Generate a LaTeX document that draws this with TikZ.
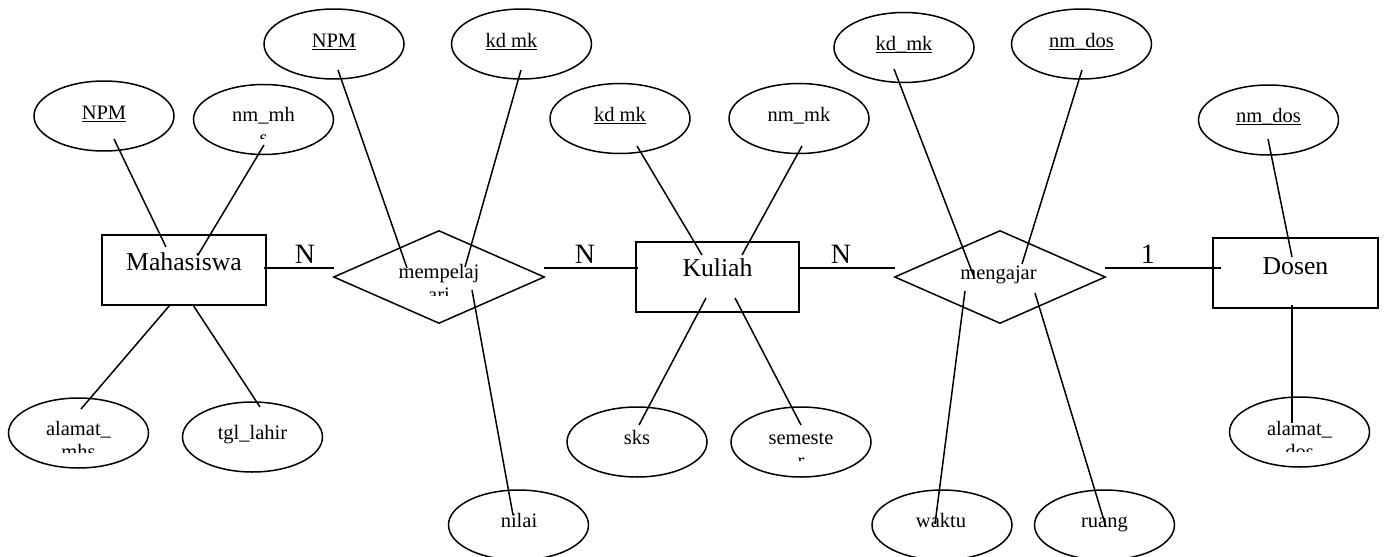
\documentclass[tikz,border=0pt]{standalone}
\usepackage{fontspec}
\setmainfont{Liberation Serif}
\usetikzlibrary{shapes.geometric}
\newsavebox{\ulbx}
\newcommand{\ulin}[1]{\sbox{\ulbx}{#1}\rlap{\rule[-2.7pt]{\wd\ulbx}{1pt}}\usebox{\ulbx}}
\begin{document}
\begin{tikzpicture}[x=1pt,y=-1pt,
  attr/.style={ellipse, draw, line width=1.5pt, minimum width=140pt, minimum height=70pt, inner sep=0pt},
  entity/.style={rectangle, draw, line width=1.5pt, minimum width=164pt, minimum height=70pt, inner sep=0pt},
  rel/.style={diamond, draw, line width=1.5pt, minimum width=211pt, minimum height=93pt, inner sep=0pt},
  atxt/.style={font=\fontsize{20.5}{24}\selectfont, anchor=base, inner sep=0pt},
  etxt/.style={font=\fontsize{25.7}{30}\selectfont, anchor=base, inner sep=0pt},
  card/.style={font=\fontsize{28}{32}\selectfont, anchor=base, inner sep=0pt, yshift=5pt},
  conn/.style={line width=1.5pt}]
\useasboundingbox (0,0) rectangle (1385,557);
\clip (0,0) rectangle (1385,557);

% entities
\node[entity] (mhs) at (184,270) {};
\node[etxt] (mhst) at (184,270) {Mahasiswa};
\node[entity, minimum width=163pt] (kul) at (717.5,277) {};
\node[etxt] (kult) at (717.5,276) {Kuliah};
\node[entity, minimum width=165pt] (dsn) at (1295.5,273) {};
\node[etxt] (dsnt) at (1295.5,274) {Dosen};

% relationships
\node[rel] (mpl) at (439,277) {};
\node[atxt] (mplt) at (439,278) {mempelaj};
\node[rel] (mgj) at (1000,277) {};
\node[atxt] (mgjt) at (998.5,279) {mengajar};

% attributes
\node[attr] (npm1) at (104,116) {};
\node[atxt] (npm1t) at (104,119) {\ulin{NPM}};
\node[attr] (nmmh) at (263.5,119.5) {};
\node[atxt] (nmmht) at (263.5,121) {nm\_mh};
\node[attr] (alamatmhs) at (78.5,433) {};
\node[atxt] (alamatmhst) at (78.5,435) {alamat\_};
\node[attr] (tgl) at (252.5,437) {};
\node[atxt] (tglt) at (252.5,439) {tgl\_lahir};
\node[attr] (npm2) at (334,44) {};
\node[atxt] (npm2t) at (334,47) {\ulin{NPM}};
\node[attr] (kdmk1) at (521.5,44) {};
\node[atxt] (kdmk1t) at (511.5,47) {\ulin{kd mk}};
\node[attr] (nilai) at (518.5,525) {};
\node[atxt] (nilait) at (519,527) {nilai};
\node[attr] (kdmk2) at (620,118.5) {};
\node[atxt] (kdmk2t) at (620,121) {\ulin{kd mk}};
\node[attr] (nmmk) at (799,118.5) {};
\node[atxt] (nmmkt) at (799,121) {nm\_mk};
\node[attr] (sks) at (637,442) {};
\node[atxt] (skst) at (637,444) {sks};
\node[attr] (smt) at (801,442) {};
\node[atxt] (smtt) at (801,444) {semeste};
\node[attr] (kdmk3) at (904,47.5) {};
\node[atxt] (kdmk3t) at (904,50.5) {\ulin{kd\_mk}};
\node[attr] (nmdos1) at (1081.5,44) {};
\node[atxt] (nmdos1t) at (1081.5,47) {\ulin{nm\_dos}};
\node[attr] (waktu) at (942,525) {};
\node[atxt] (waktut) at (941,527) {waktu};
\node[attr] (ruang) at (1104.5,525) {};
\node[atxt] (ruangt) at (1104.5,527) {ruang};
\node[attr] (nmdos2) at (1268.5,120) {};
\node[atxt] (nmdos2t) at (1268.5,122) {\ulin{nm\_dos}};
\node[attr] (alamatdos) at (1299.5,432) {};
\node[atxt] (alamatdost) at (1299.5,435) {alamat\_};

% clipped second lines of wrapped labels
\begin{scope}
\clip (0,0) rectangle (1385,138);
\node[atxt] (nmmht2) at (263.5,144.6) {s};
\end{scope}
\begin{scope}
\clip (0,0) rectangle (1385,295.5);
\node[atxt] (mplt2) at (439,301.6) {ari};
\end{scope}
\begin{scope}
\clip (0,0) rectangle (1385,452);
\node[atxt] (alamatmhst2) at (78.5,458.6) {mhs};
\end{scope}
\begin{scope}
\clip (0,0) rectangle (1385,460.5);
\node[atxt] (smtt2) at (801,467.6) {r};
\end{scope}
\begin{scope}
\clip (0,0) rectangle (1385,451);
\node[atxt] (alamatdost2) at (1299.5,458.6) {dos};
\end{scope}

% attribute connectors
\draw[conn] ([shift={(10,23)}]npm1.center) -- ([shift={(-18,-23)}]mhs.center);
\draw[conn] ([shift={(0.5,25.5)}]nmmh.center) -- ([shift={(14,-15)}]mhs.center);
\draw[conn] ([shift={(-14,35)}]mhs.center) -- ([shift={(2.5,-24)}]alamatmhs.center);
\draw[conn] ([shift={(9,35)}]mhs.center) -- ([shift={(7.5,-30)}]tgl.center);
\draw[conn] ([shift={(4,26)}]npm2.center) -- ([shift={(-32,-9)}]mpl.center);
\draw[conn] ([shift={(-0.5,26)}]kdmk1.center) -- ([shift={(26,-10)}]mpl.center);
\draw[conn] ([shift={(33,13)}]mpl.center) -- ([shift={(-5.5,-10)}]nilai.center);
\draw[conn] ([shift={(17,27.5)}]kdmk2.center) -- ([shift={(-15.5,-22)}]kul.center);
\draw[conn] ([shift={(3,27.5)}]nmmk.center) -- ([shift={(24.5,-22)}]kul.center);
\draw[conn] ([shift={(-11.5,21)}]kul.center) -- ([shift={(2,-17)}]sks.center);
\draw[conn] ([shift={(17.5,21)}]kul.center) -- ([shift={(0,-17)}]smt.center);
\draw[conn] ([shift={(-10,21.5)}]kdmk3.center) -- ([shift={(-26,0)}]mgj.center);
\draw[conn] ([shift={(0.5,26)}]nmdos1.center) -- ([shift={(22,-13)}]mgj.center);
\draw[conn] ([shift={(-35,14)}]mgj.center) -- ([shift={(-7,-1)}]waktu.center);
\draw[conn] ([shift={(35,16)}]mgj.center) -- ([shift={(1.5,2)}]ruang.center);
\draw[conn] ([shift={(-0.5,19)}]nmdos2.center) -- ([shift={(-3.5,-16)}]dsn.center);
\draw[conn] ([shift={(-3.5,32)}]dsn.center) -- ([shift={(-7.5,-9)}]alamatdos.center);

% relationship connectors with cardinalities
\draw[conn] ([shift={(80,-2)}]mhs.center) -- node[card, pos=0.586] (c1) {N} ([shift={(-105,-9)}]mpl.center);
\draw[conn] ([shift={(105,-9)}]mpl.center) -- node[card, pos=0.436] (c2) {N} ([shift={(-79.5,-9)}]kul.center);
\draw[conn] ([shift={(81.5,-9)}]kul.center) -- node[card, pos=0.4375] (c3) {N} ([shift={(-105,-9)}]mgj.center);
\draw[conn] ([shift={(105,-9)}]mgj.center) -- node[card, pos=0.37] (c4) {1} ([shift={(-74.5,-5)}]dsn.center);
\end{tikzpicture}
\end{document}
